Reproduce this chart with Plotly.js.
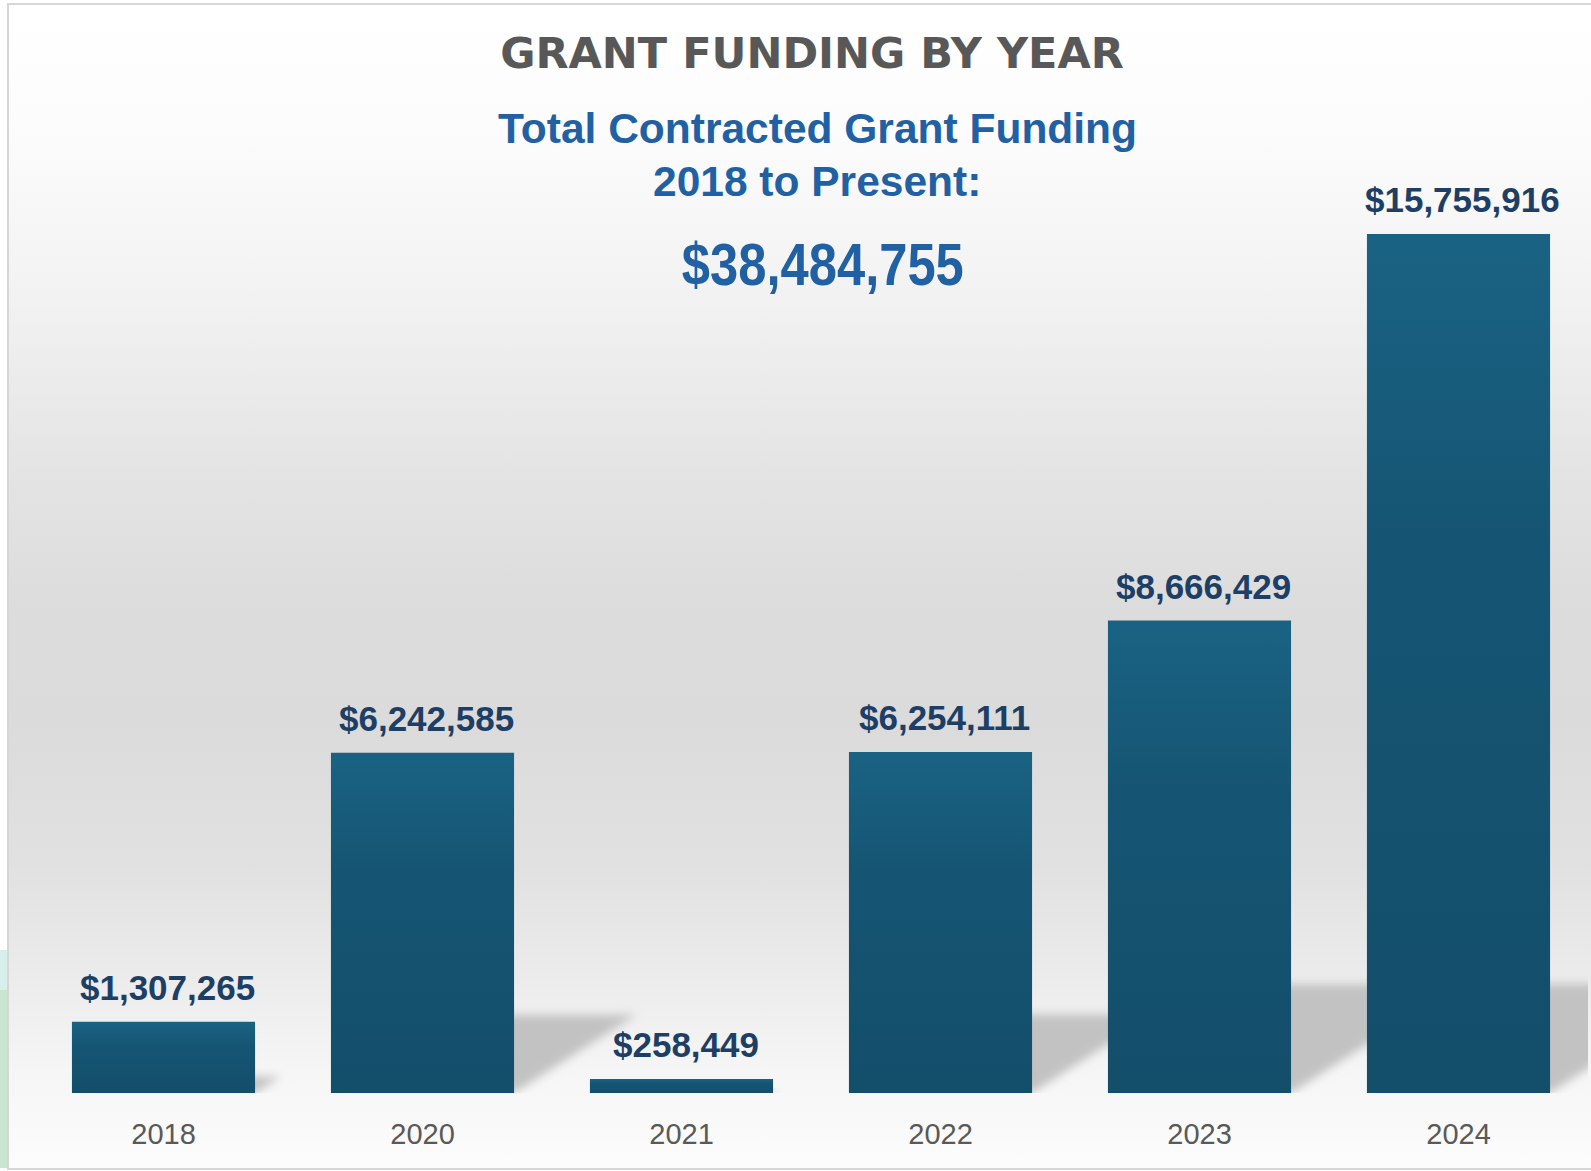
<!DOCTYPE html>
<html>
<head>
<meta charset="utf-8">
<script src="https://cdn.plot.ly/plotly-3.0.1.min.js"></script>
<style>
html, body { margin: 0; padding: 0; background: #ffffff; }
#wrap { position: relative; width: 1591px; height: 1171px; overflow: hidden; background: #ffffff; }
#panel {
  position: absolute; left: 7px; top: 3px; width: 1620px; height: 1163px;
  border: 2px solid #d6d6d6; border-right: none;
  background: linear-gradient(to bottom,
    #ffffff 0%, #fbfbfb 12%, #f1f1f1 26%, #e4e4e4 40%, #dcdcdc 52%,
    #dbdbdb 62%, #e1e1e1 74%, #ececec 84%, #f6f6f6 92%, #fcfcfc 100%);
}
#mint1 { position: absolute; left: 0; top: 950px; width: 7px; height: 40px; background: #d7eeea; }
#mint2 { position: absolute; left: 0; top: 990px; width: 7px; height: 178px; background: #c9e5d0; }
#chart { position: absolute; left: 0; top: 0; width: 1591px; height: 1171px; }
</style>
</head>
<body>
<div id="wrap">
  <div id="panel"></div>
  <div id="mint1"></div>
  <div id="mint2"></div>
  <div id="chart"></div>
</div>
<script>
// ---- data ----
const years = ['2018', '2020', '2021', '2022', '2023', '2024'];
const funding = [1307265, 6242585, 258449, 6254111, 8666429, 15755916];
const chartTitle = 'GRANT FUNDING BY YEAR';
const subtitleLine1 = 'Total Contracted Grant Funding';
const subtitleLine2 = '2018 to Present:';

// ---- helpers ----
const fmt = v => '$' + v.toLocaleString('en-US');
const total = funding.reduce((a, b) => a + b, 0);
const idx = years.map((_, i) => i);

const W = 1591, H = 1171;
const M = { l: 34, r: 3, t: 100, b: 78 };
const plotH = H - M.t - M.b;
const plotW = W - M.l - M.r;
const yMax = 18213840;
const pxPerUnit = plotH / yMax;
const catPx = plotW / years.length;
const barW = 0.707;

// paper coords helpers
const py = p => (H - M.b - p) / plotH;
const px = p => (p - M.l) / plotW;

// soft floor shadows behind bars
const shadowShapes = funding.map((v, i) => {
  const hd = Math.min(0.23 * v, 2.0e6);
  const hpx = hd * pxPerUnit;
  const dx = (hpx / 0.64) / catPx;
  const x0 = i;
  const x1 = i + barW / 2;
  return {
    type: 'path', xref: 'x', yref: 'y', layer: 'below',
    path: `M ${x0},0 L ${x0},${hd} L ${x1 + dx},${hd} L ${x1},0 Z`,
    fillcolor: '#c2c2c2', line: { width: 0 }
  };
});

const valueLabels = funding.map((v, i) => ({
  x: i, y: v, xref: 'x', yref: 'y',
  text: fmt(v), showarrow: false, yanchor: 'bottom', yshift: 13, xshift: 4,
  font: { family: 'Liberation Sans, Arial, sans-serif', size: 35, color: '#1d3f66', weight: 'bold' }
}));

const headerAnn = [
  { text: subtitleLine1, x: px(817), y: py(128.5) },
  { text: subtitleLine2, x: px(817), y: py(181.5) }
].map(a => Object.assign(a, {
  xref: 'paper', yref: 'paper', showarrow: false, xanchor: 'center', yanchor: 'middle',
  font: { family: 'Liberation Sans, Arial, sans-serif', size: 42.5, color: '#2161a3', weight: 'bold' }
}));

headerAnn.push({
  text: fmt(total), x: px(823), y: py(264), xref: 'paper', yref: 'paper',
  showarrow: false, xanchor: 'center', yanchor: 'middle',
  font: { family: 'Liberation Sans, Arial, sans-serif', size: 60, color: '#2161a3', weight: 'bold' }
});

const trace = {
  type: 'bar', x: idx, y: funding, width: barW,
  marker: { color: '#165a7a', line: { width: 0 } },
  hoverinfo: 'none'
};

const layout = {
  width: W, height: H,
  margin: M,
  paper_bgcolor: 'rgba(0,0,0,0)',
  plot_bgcolor: 'rgba(0,0,0,0)',
  showlegend: false,
  title: {
    text: chartTitle, xref: 'container', yref: 'container',
    x: 812 / W, y: 1 - 53 / H, xanchor: 'center', yanchor: 'middle',
    font: { family: 'DejaVu Sans, sans-serif', size: 43, color: '#585858', weight: 'bold' }
  },
  xaxis: {
    type: 'linear', range: [-0.5, years.length - 0.5],
    tickmode: 'array', tickvals: idx, ticktext: years,
    showgrid: false, zeroline: false, showline: false, ticks: '',
    ticklabelstandoff: 21,
    tickfont: { family: 'Liberation Sans, Arial, sans-serif', size: 29, color: '#595959' },
    fixedrange: true
  },
  yaxis: {
    range: [0, yMax], visible: false, showgrid: false, zeroline: false, fixedrange: true
  },
  shapes: shadowShapes,
  annotations: valueLabels.concat(headerAnn)
};

Plotly.newPlot('chart', [trace], layout, { displayModeBar: false, staticPlot: true }).then(() => {
  const defs = document.querySelector('#chart .main-svg defs');
  defs.innerHTML += '<linearGradient id="barGrad" x1="0" y1="0" x2="0" y2="1">' +
    '<stop offset="0" stop-color="#1a6283"/><stop offset="0.35" stop-color="#155573"/>' +
    '<stop offset="1" stop-color="#134e6b"/></linearGradient>' +
    '<filter id="shBlur" x="-50%" y="-50%" width="200%" height="200%">' +
    '<feGaussianBlur stdDeviation="5"/></filter>';
  document.querySelectorAll('#chart .barlayer .point path').forEach(p => {
    p.style.fill = 'url(#barGrad)';
  });
  document.querySelectorAll('#chart .shapelayer path').forEach(p => {
    p.setAttribute('filter', 'url(#shBlur)');
  });
  // condense the grand-total figure to the narrow width used in the original
  const totalText = fmt(total);
  document.querySelectorAll('#chart .annotation-text').forEach(t => {
    if (t.textContent === totalText) {
      t.setAttribute('textLength', '282');
      t.setAttribute('lengthAdjust', 'spacingAndGlyphs');
    }
  });
});
</script>
</body>
</html>
